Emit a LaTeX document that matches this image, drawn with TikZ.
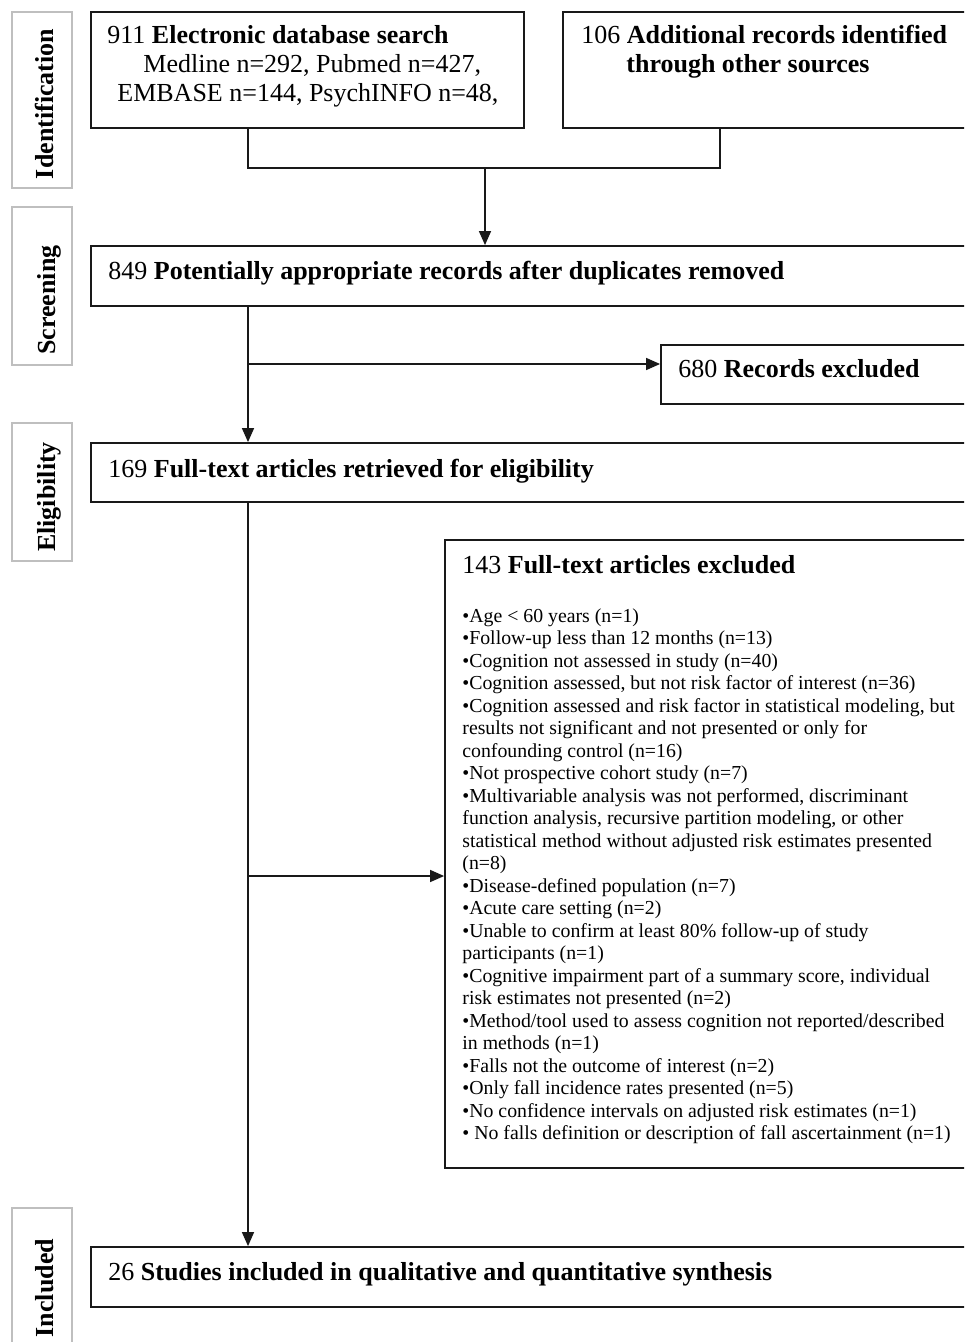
\documentclass[tikz,border=0pt]{standalone}
\usepackage{fontspec}
\setmainfont{Liberation Serif}
\usetikzlibrary{arrows.meta,fit}
\begin{document}
\begin{tikzpicture}[x=0.5pt,y=-0.5pt,
  box/.style={draw=black!90, line width=0.9pt, inner sep=0pt},
  sidebox/.style={draw=black!25, line width=0.7pt, inner sep=0pt},
  sidelabel/.style={font=\fontsize{13}{15}\selectfont\bfseries, rotate=90, anchor=base, inner sep=0pt},
  txt/.style={font=\fontsize{13}{15}\selectfont, anchor=base west, inner sep=0pt},
  itemtxt/.style={font=\fontsize{9.9}{11.26}\selectfont, anchor=base west, inner sep=0pt},
  conn/.style={draw=black!90, line width=0.7pt},
  arrow/.style={conn, -{Triangle[length=7pt,width=6pt]}}]
\useasboundingbox (0,0) rectangle (964,1342);
\clip (0,0) rectangle (964,1342);
\fill[white] (0,0) rectangle (964,1342);

% side labels
\node[sidebox, fit={(12,12) (72,188)}] (sid) {};
\node[sidebox, fit={(12,207) (72,365)}] (ssc) {};
\node[sidebox, fit={(12,423) (72,561)}] (sel) {};
\node[sidebox, fit={(12,1208) (72,1360)}] (sin) {};
\node[sidelabel] (lid) at (54,104) {Identification};
\node[sidelabel] (lsc) at (55,300) {Screening};
\node[sidelabel] (lel) at (55,497) {Eligibility};
\node[sidelabel] (lin) at (53,1288) {Included};

% boxes
\node[box, fit={(91,12) (524,128)}] (b911) {};
\node[box, fit={(563,12) (980,128)}] (b106) {};
\node[box, fit={(91,246) (980,306)}] (b849) {};
\node[box, fit={(661,345) (980,404)}] (b680) {};
\node[box, fit={(91,443) (980,502)}] (b169) {};
\node[box, fit={(445,540) (980,1168)}] (b143) {};
\node[box, fit={(91,1247) (980,1307)}] (b26) {};

% texts
\node[txt] (t911a) at (107,44) {911 \textbf{Electronic database search}};
\node[txt] (t911b) at (143,73) {Medline n=292, Pubmed n=427,};
\node[txt] (t911c) at (117,102) {EMBASE n=144, PsychINFO n=48,};
\node[txt] (t106a) at (581,44) {106 \textbf{Additional records identified}};
\node[txt] (t106b) at (626,73) {\textbf{through other sources}};
\node[txt] (t849) at (108,280) {849 \textbf{Potentially appropriate records after duplicates removed}};
\node[txt] (t680) at (678,378) {680 \textbf{Records excluded}};
\node[txt] (t169) at (108,477) {169 \textbf{Full-text articles retrieved for eligibility}};
\node[txt] (t143) at (462,573) {143 \textbf{Full-text articles excluded}};
\node[txt] (t26) at (108,1280) {26 \textbf{Studies included in qualitative and quantitative synthesis}};

\foreach \t [count=\i from 0] in {
  {•Age < 60 years (n=1)},
  {•Follow-up less than 12 months (n=13)},
  {•Cognition not assessed in study (n=40)},
  {•Cognition assessed, but not risk factor of interest (n=36)},
  {•Cognition assessed and risk factor in statistical modeling, but},
  {results not significant and not presented or only for},
  {confounding control (n=16)},
  {•Not prospective cohort study (n=7)},
  {•Multivariable analysis was not performed, discriminant},
  {function analysis, recursive partition modeling, or other},
  {statistical method without adjusted risk estimates presented},
  {(n=8)},
  {•Disease-defined population (n=7)},
  {•Acute care setting (n=2)},
  {•Unable to confirm at least 80\% follow-up of study},
  {participants (n=1)},
  {•Cognitive impairment part of a summary score, individual},
  {risk estimates not presented (n=2)},
  {•Method/tool used to assess cognition not reported/described},
  {in methods (n=1)},
  {•Falls not the outcome of interest (n=2)},
  {•Only fall incidence rates presented (n=5)},
  {•No confidence intervals on adjusted risk estimates (n=1)},
  {• No falls definition or description of fall ascertainment (n=1)}}
  \node[itemtxt] (it\i) at (462,622+22.52*\i) {\t};

% connectors
\coordinate (jl) at (248,168);
\coordinate (jr) at (720,168);
\coordinate (jm) at (485,168);
\coordinate (j680) at (248,364);
\coordinate (j143) at (248,876);
\draw[conn] (b911.south -| jl) -- (jl) -- (jr) -- (b106.south -| jr);
\draw[arrow] (jm) -- (b849.north -| jm);
\draw[arrow] (b849.south -| jl) -- (b169.north -| jl);
\draw[arrow] (j680) -- (b680.west |- j680);
\draw[arrow] (b169.south -| jl) -- (b26.north -| jl);
\draw[arrow] (j143) -- (b143.west |- j143);
\end{tikzpicture}
\end{document}
